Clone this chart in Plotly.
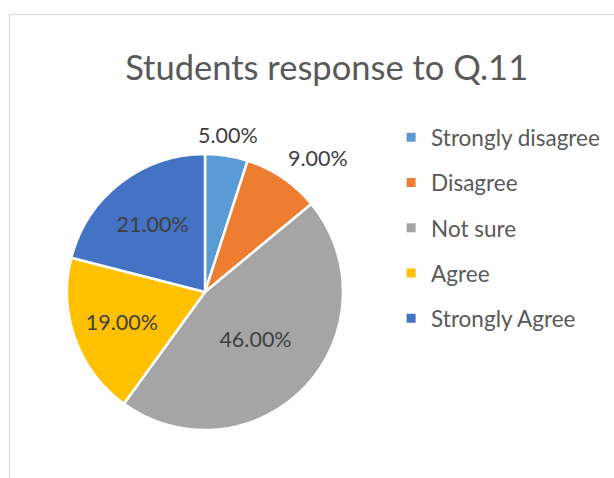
import math
import plotly.graph_objects as go

# Survey responses to question 11
categories = ["Strongly disagree", "Disagree", "Not sure", "Agree", "Strongly Agree"]
shares = [5.00, 9.00, 46.00, 19.00, 21.00]
colors = ["#5B9BD5", "#ED7D31", "#A5A5A5", "#FFC000", "#4472C4"]
outside = [True, True, False, False, False]

W, H = 614, 478
FONT = "Lato, Carlito, Calibri, sans-serif"
LABEL_FONT = dict(family=FONT, size=21.5, color="#404040")

# Pie placement (pixels) -> domain
CX, CY, R = 205, 292, 138
domain = dict(x=[(CX - R) / W, (CX + R) / W], y=[1 - (CY + R) / H, 1 - (CY - R) / H])

labels_text = [f"{v:.2f}%" for v in shares]
inside_text = ["" if o else t for o, t in zip(outside, labels_text)]

fig = go.Figure()

fig.add_trace(go.Pie(
    labels=categories,
    values=shares,
    sort=False,
    direction="clockwise",
    rotation=0,
    marker=dict(colors=colors, line=dict(color="white", width=2.5)),
    text=inside_text,
    textinfo="text",
    textposition="inside",
    insidetextorientation="horizontal",
    textfont=LABEL_FONT,
    showlegend=False,
    hoverinfo="label+percent",
    domain=domain,
))

# Outside labels for the small slices, placed just beyond the rim at the slice mid-angle
total = sum(shares)
cum = 0.0
annotations = []
for val, txt, out in zip(shares, labels_text, outside):
    mid = 2 * math.pi * (cum + val / 2) / total
    cum += val
    if not out:
        continue
    s, c = math.sin(mid), math.cos(mid)
    px = CX + (R + 6) * s
    py = CY - (R + 6) * c
    xanchor = "center" if abs(s) < 0.3 else ("left" if s > 0 else "right")
    yanchor = "middle" if abs(c) < 0.3 else ("bottom" if c > 0 else "top")
    annotations.append(dict(
        x=px / W, y=1 - py / H, xref="paper", yref="paper",
        text=txt, showarrow=False, xanchor=xanchor, yanchor=yanchor,
        font=LABEL_FONT,
    ))

# Legend entries drawn as square swatches, one group per category for spacing
for name, col in zip(categories, colors):
    fig.add_trace(go.Scatter(
        x=[None], y=[None], mode="markers", name=name, legendgroup=name,
        marker=dict(symbol="square", size=9, color=col),
        hoverinfo="skip",
    ))

fig.update_layout(
    width=W, height=H,
    margin=dict(l=0, r=0, t=0, b=0),
    paper_bgcolor="white",
    plot_bgcolor="white",
    title=dict(
        text="Students response to Q.11",
        x=0.532, xanchor="center", y=0.857, yanchor="middle",
        font=dict(family=FONT, size=34.5, color="#595959"),
    ),
    xaxis=dict(visible=False),
    yaxis=dict(visible=False),
    legend=dict(
        x=0.637, y=0.757, xanchor="left", yanchor="top",
        traceorder="grouped", tracegroupgap=13,
        font=dict(family=FONT, size=22.5, color="#595959"),
        itemwidth=30,
        bgcolor="rgba(0,0,0,0)",
    ),
    annotations=annotations,
    shapes=[dict(
        type="rect", xref="paper", yref="paper",
        x0=9.5 / W, x1=1.02, y0=-0.02, y1=1 - 14.5 / H,
        line=dict(color="#D9D9D9", width=1.2),
        fillcolor="rgba(0,0,0,0)", layer="below",
    )],
)

fig.write_html("out.html")
